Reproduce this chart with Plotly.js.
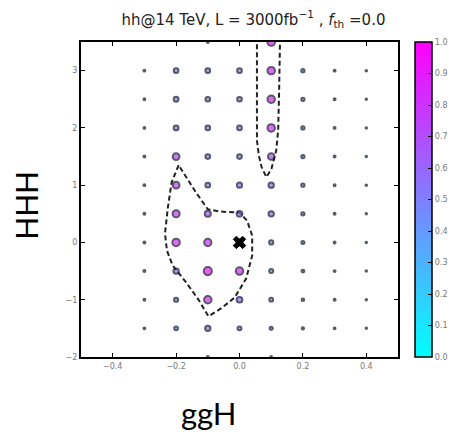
<!DOCTYPE html>
<html>
<head>
<meta charset="utf-8">
<script src="https://cdn.plot.ly/plotly-3.0.1.min.js"></script>
<style>html,body{margin:0;padding:0;background:#fff;}#chart{width:465px;height:432px;}</style>
</head>
<body>
<div id="chart"></div>
<script>
// ggH coupling scan (x) and HHH coupling scan (y)
const ggH = [-0.3, -0.2, -0.1, 0.0, 0.1, 0.2, 0.3, 0.4];
const HHH = [3.5, 3.0, 2.5, 2.0, 1.5, 1.0, 0.5, 0.0, -0.5, -1.0, -1.5, -2.0];
// significance values per row of HHH (null = no point drawn)
const row_3p5  = [null, null, 0.04, null, 0.88, null, null, null];
const row_3p0  = [0.05, 0.45, 0.45, 0.45, 0.85, 0.25, 0.06, 0.0];
const row_2p5  = [0.05, 0.47, 0.45, 0.45, 0.85, 0.25, 0.06, 0.0];
const row_2p0  = [0.05, 0.48, 0.45, 0.45, 0.85, 0.25, 0.06, 0.0];
const row_1p5  = [0.05, 0.75, 0.45, 0.45, 0.72, 0.25, 0.06, 0.0];
const row_1p0  = [0.05, 0.75, 0.45, 0.52, 0.55, 0.25, 0.06, 0.0];
const row_0p5  = [0.06, 0.80, 0.65, 0.60, 0.55, 0.25, 0.06, 0.0];
const row_0p0  = [0.07, 0.85, 0.82, 0.70, 0.38, 0.22, 0.06, 0.0];
const row_m0p5 = [0.07, 0.55, 0.95, 0.85, 0.35, 0.20, 0.06, 0.0];
const row_m1p0 = [0.06, 0.38, 0.85, 0.60, 0.32, 0.16, 0.06, 0.0];
const row_m1p5 = [0.04, 0.32, 0.55, 0.35, 0.22, 0.12, 0.05, 0.0];
const row_m2p0 = [null, null, 0.04, null, 0.04, null, null, null];
const rows = [row_3p5, row_3p0, row_2p5, row_2p0, row_1p5, row_1p0, row_0p5, row_0p0, row_m0p5, row_m1p0, row_m1p5, row_m2p0];

// SM point
const smX = [0.0];
const smY = [0.0];

// dashed contour: closed loop and open narrow band
const loopX = [-0.192, -0.214, -0.226, -0.235, -0.229, -0.211, -0.168, -0.128, -0.098, -0.055, -0.015, 0.021, 0.040, 0.040, 0.024, 0.000, -0.061, -0.100, -0.137, -0.168, -0.192];
const loopY = [1.35, 1.05, 0.61, 0.16, -0.14, -0.40, -0.70, -1.01, -1.29, -1.14, -0.96, -0.63, -0.23, 0.12, 0.38, 0.52, 0.54, 0.58, 0.87, 1.14, 1.35];
const bandX = [0.055, 0.055, 0.055, 0.061, 0.070, 0.085, 0.101, 0.116, 0.122, 0.125, 0.128];
const bandY = [3.6, 2.48, 1.78, 1.52, 1.31, 1.14, 1.29, 1.61, 1.96, 2.66, 3.6];

const xTicks = [-0.4, -0.2, 0.0, 0.2, 0.4];
const yTicks = [-2, -1, 0, 1, 2, 3];

const px = [], py = [], pv = [];
rows.forEach((r, i) => r.forEach((v, j) => {
  if (v !== null) { px.push(ggH[j]); py.push(HHH[i]); pv.push(v); }
}));

const cool = [[0, 'rgb(0,255,255)'], [1, 'rgb(255,0,255)']];
const tickFont = {family: 'DejaVu Sans', size: 8, color: '#777'};

const traces = [
  {
    x: loopX, y: loopY, type: 'scatter', mode: 'lines',
    line: {color: '#222', width: 2, dash: '5px,3px'}, hoverinfo: 'skip', showlegend: false
  },
  {
    x: bandX, y: bandY, type: 'scatter', mode: 'lines',
    line: {color: '#222', width: 2, dash: '5px,3px'}, hoverinfo: 'skip', showlegend: false
  },
  {
    x: px, y: py, type: 'scatter', mode: 'markers', showlegend: false,
    marker: {
      color: pv, cmin: 0, cmax: 1, colorscale: cool,
      size: pv.map(v => 1.5 + 7 * v),
      line: {color: '#14142a', width: 2},
      showscale: true,
      colorbar: {
        x: 1.0547, xanchor: 'left', xpad: 0, xref: 'paper',
        y: 0.5, yanchor: 'middle', ypad: 0, len: 1, lenmode: 'fraction',
        thickness: 17, outlinewidth: 1.5, outlinecolor: '#000',
        ticks: 'inside', ticklen: 4, tickcolor: '#000', tickwidth: 1,
        tickvals: [0,0.1,0.2,0.3,0.4,0.5,0.6,0.7,0.8,0.9,1.0],
        tickformat: '.1f', tickfont: tickFont
      }
    }
  },
  {
    x: smX, y: smY, type: 'scatter', mode: 'markers', showlegend: false,
    marker: {symbol: 'x', size: 11, color: '#000', line: {color: '#000', width: 1}}
  }
];

const axisCommon = {
  showgrid: false, zeroline: false, showline: true, linecolor: '#000', linewidth: 2,
  mirror: 'allticks', ticks: 'inside', ticklen: 4, tickcolor: '#000', tickwidth: 1,
  tickfont: tickFont
};

const layout = {
  width: 465, height: 432,
  margin: {l: 81, r: 55, t: 42, b: 75, pad: 0},
  paper_bgcolor: '#fff', plot_bgcolor: '#fff',
  title: {
    text: 'hh@14 TeV, L = 3000fb<sup>−1</sup> , <i>f</i><sub>th</sub> =0.0',
    x: 0.544, xref: 'paper', xanchor: 'center',
    y: 0.955, yref: 'container', yanchor: 'middle',
    font: {family: 'DejaVu Sans', size: 15, color: '#222'}
  },
  xaxis: Object.assign({}, axisCommon, {
    range: [-0.5, 0.5], tickvals: xTicks, ticktext: xTicks.map(v => v.toFixed(1).replace('-', '−'))
  }),
  yaxis: Object.assign({}, axisCommon, {
    range: [-2, 3.5], tickvals: yTicks, ticktext: yTicks.map(v => String(v).replace('-', '−'))
  }),
  annotations: [
    {text: 'HHH', xref: 'paper', yref: 'paper', x: -0.1717, y: 0.482, textangle: -90,
     showarrow: false, xanchor: 'center', yanchor: 'middle',
     font: {family: 'Lato', size: 30, color: '#000'}},
    {text: 'ggH', xref: 'paper', yref: 'paper', x: 0.404, y: -0.178,
     showarrow: false, xanchor: 'center', yanchor: 'middle',
     font: {family: 'Lato', size: 31, color: '#000'}}
  ]
};

Plotly.newPlot('chart', traces, layout, {displayModeBar: false, staticPlot: true});
</script>
</body>
</html>
